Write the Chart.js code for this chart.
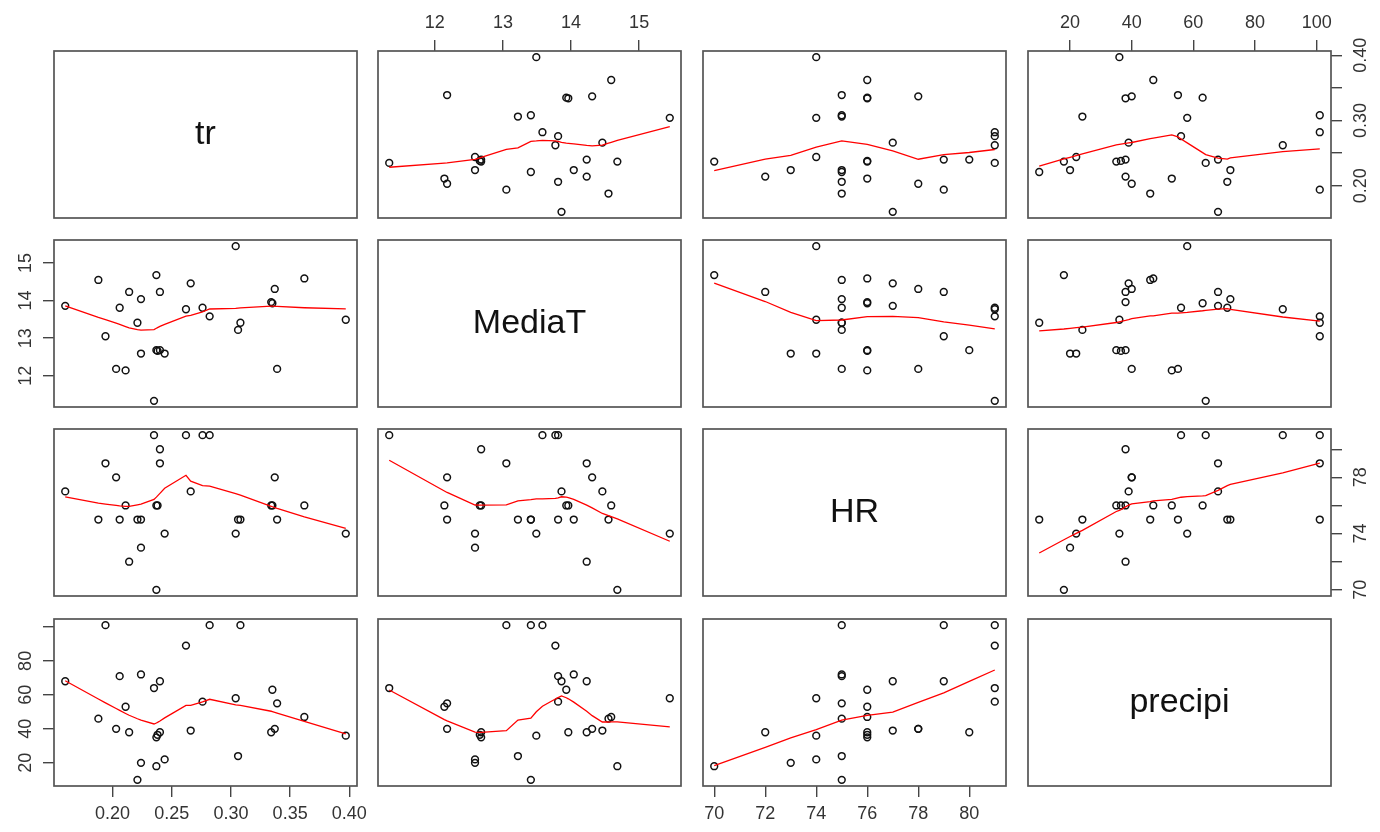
<!DOCTYPE html>
<html>
<head>
<meta charset="utf-8">
<title>pairs</title>
<script src="https://cdn.jsdelivr.net/npm/chart.js@4.4.1/dist/chart.umd.min.js"></script>
<style>
  html, body { margin: 0; padding: 0; background: #fff; }
  #wrap { position: relative; width: 1380px; height: 832px; overflow: hidden; }
  #wrap canvas { position: absolute; }
</style>
</head>
<body>
<div id="wrap"></div>
<script>
// Observations (one entry per station, same order in every array)
const tr = [0.160, 0.188, 0.194, 0.203, 0.206, 0.211, 0.214, 0.221, 0.224, 0.224,
            0.235, 0.237, 0.237, 0.238, 0.240, 0.240, 0.244, 0.262, 0.266, 0.276,
            0.282, 0.304, 0.306, 0.308, 0.334, 0.335, 0.337, 0.339, 0.362, 0.397];
const mediaT = [13.86, 14.55, 13.05, 12.18, 13.81, 12.14, 14.23, 13.41, 14.04, 12.59,
                11.33, 12.68, 14.68, 12.66, 12.68, 14.23, 12.59, 13.77, 14.46, 13.81,
                13.58, 15.45, 13.22, 13.41, 13.96, 13.93, 14.31, 12.18, 14.59, 13.49];
const hr = [77, 75, 79, 78, 75, 76, 72, 75, 75, 73,
            81, 76, 70, 76, 80, 79, 74, 81, 77, 81,
            81, 74, 75, 75, 76, 76, 78, 75, 76, 74];
const precipi = [68, 46, 101, 40, 71, 53, 38, 10, 72, 20,
                 64, 35, 18, 36.5, 38, 68, 22, 89, 39, 56,
                 101, 58, 24, 101, 38, 63, 40, 55, 47, 36];

// Axis ticks
const trTicks = [0.20, 0.25, 0.30, 0.35, 0.40];
const mediaTTicks = [12, 13, 14, 15];
const hrTicks = [70, 72, 74, 76, 78, 80];
const precipiTicks = [20, 40, 60, 80, 100];

// Labels printed on the vertical axes (R drops the ones that would overlap)
const trSideLabels = [0.20, 0.30, 0.40];
const mediaTSideLabels = [12, 13, 14, 15];
const hrSideLabels = [70, 74, 78];
const precipiSideLabels = [20, 40, 60, 80];

const varNames = ["tr", "MediaT", "HR", "precipi"];
const varData = [tr, mediaT, hr, precipi];
const varTicks = [trTicks, mediaTTicks, hrTicks, precipiTicks];
const varSideLabels = [trSideLabels, mediaTSideLabels, hrSideLabels, precipiSideLabels];
const varFormat = [
  (v) => v.toFixed(2),
  (v) => String(v),
  (v) => String(v),
  (v) => String(v),
];

// Panel geometry
const colLeft = [54, 378, 703, 1028];
const rowTop = [51, 240, 429, 619];
const panelW = 303;
const panelH = 167;
const M = 50;
const FONT = "'Liberation Sans', Arial, sans-serif";

// R-like axis limits: data range stretched by 4% each side
function limits(arr) {
  const lo = Math.min(...arr);
  const hi = Math.max(...arr);
  const r = hi - lo;
  return [lo - 0.04 * r, hi + 0.04 * r];
}

// Port of R's clowess (stats::lowess, f = 2/3, iter = 3)
function lowess(xIn, yIn, f = 2 / 3, nsteps = 3) {
  const idx = xIn.map((_, k) => k).sort((a, b) => xIn[a] - xIn[b] || a - b);
  const x = idx.map((k) => xIn[k]);
  const y = idx.map((k) => yIn[k]);
  const n = x.length;
  const delta = 0.01 * (x[n - 1] - x[0]);
  const ys = new Array(n).fill(0);
  const rw = new Array(n).fill(1);
  const res = new Array(n).fill(0);
  const w = new Array(n).fill(0);
  const ns = Math.max(2, Math.min(n, Math.floor(f * n + 1e-7)));

  function lowest(xs, nleft, nright, userw) {
    const range = x[n - 1] - x[0];
    const h = Math.max(xs - x[nleft], x[nright] - xs);
    const h9 = 0.999 * h;
    const h1 = 0.001 * h;
    let a = 0;
    let j = nleft;
    while (j < n) {
      w[j] = 0;
      const r = Math.abs(x[j] - xs);
      if (r <= h9) {
        w[j] = r <= h1 ? 1 : Math.pow(1 - Math.pow(r / h, 3), 3);
        if (userw) w[j] *= rw[j];
        a += w[j];
      } else if (x[j] > xs) {
        break;
      }
      j++;
    }
    const nrt = j - 1;
    if (a <= 0) return null;
    for (j = nleft; j <= nrt; j++) w[j] /= a;
    if (h > 0) {
      a = 0;
      for (j = nleft; j <= nrt; j++) a += w[j] * x[j];
      let b = xs - a;
      let c = 0;
      for (j = nleft; j <= nrt; j++) c += w[j] * (x[j] - a) * (x[j] - a);
      if (Math.sqrt(c) > 0.001 * range) {
        b /= c;
        for (j = nleft; j <= nrt; j++) w[j] *= b * (x[j] - a) + 1;
      }
    }
    let out = 0;
    for (j = nleft; j <= nrt; j++) out += w[j] * y[j];
    return out;
  }

  for (let iter = 1; iter <= nsteps + 1; iter++) {
    let nleft = 0;
    let nright = ns - 1;
    let last = -1;
    let i = 0;
    for (;;) {
      if (nright < n - 1) {
        const d1 = x[i] - x[nleft];
        const d2 = x[nright + 1] - x[i];
        if (d1 > d2) {
          nleft++;
          nright++;
          continue;
        }
      }
      const v = lowest(x[i], nleft, nright, iter > 1);
      ys[i] = v === null ? y[i] : v;
      if (last < i - 1) {
        const denom = x[i] - x[last];
        for (let j = last + 1; j < i; j++) {
          const alpha = (x[j] - x[last]) / denom;
          ys[j] = alpha * ys[i] + (1 - alpha) * ys[last];
        }
      }
      last = i;
      const cut = x[last] + delta;
      for (i = last + 1; i < n; i++) {
        if (x[i] > cut) break;
        if (x[i] === x[last]) {
          ys[i] = ys[last];
          last = i;
        }
      }
      i = Math.max(last + 1, i - 1);
      if (last >= n - 1) break;
    }
    for (let k = 0; k < n; k++) res[k] = y[k] - ys[k];
    let sc = 0;
    for (let k = 0; k < n; k++) sc += Math.abs(res[k]);
    sc /= n;
    if (iter > nsteps) break;
    const sorted = res.map(Math.abs).sort((a, b) => a - b);
    const m1 = Math.floor(n / 2);
    let cmad;
    if (n % 2 === 0) {
      const m2 = n - m1 - 1;
      cmad = 3 * (sorted[m1] + sorted[m2]);
    } else {
      cmad = 6 * sorted[m1];
    }
    if (cmad < 1e-7 * sc) break;
    const c9 = 0.999 * cmad;
    const c1 = 0.001 * cmad;
    for (let k = 0; k < n; k++) {
      const r = Math.abs(res[k]);
      if (r <= c1) rw[k] = 1;
      else if (r <= c9) rw[k] = Math.pow(1 - Math.pow(r / cmad, 2), 2);
      else rw[k] = 0;
    }
  }
  return x.map((xv, k) => ({ x: xv, y: ys[k] }));
}

// Box, diagonal names and rotated vertical-axis labels
const panelDecor = {
  id: "panelDecor",
  afterDraw(chart, args, opts) {
    const { ctx, chartArea: a } = chart;
    ctx.save();
    if (opts.name) {
      ctx.font = `34px ${FONT}`;
      ctx.fillStyle = "#111";
      ctx.textAlign = "center";
      ctx.textBaseline = "middle";
      ctx.fillText(opts.name, (a.left + a.right) / 2, (a.top + a.bottom) / 2);
    }
    if (opts.sideLabels) {
      const ys = chart.scales.y;
      const left = opts.side === "left";
      ctx.font = `18px ${FONT}`;
      ctx.fillStyle = "#333";
      ctx.textAlign = "center";
      ctx.textBaseline = left ? "bottom" : "top";
      const x = left ? a.left - 19 : a.right + 21;
      opts.sideLabels.forEach((v) => {
        ctx.save();
        ctx.translate(x, ys.getPixelForValue(v));
        ctx.rotate(-Math.PI / 2);
        ctx.fillText(opts.fmt(v), 0, 0);
        ctx.restore();
      });
    }
    ctx.strokeStyle = "#555";
    ctx.lineWidth = 1.7;
    ctx.strokeRect(a.left, a.top, a.right - a.left, a.bottom - a.top);
    ctx.restore();
  },
};

function makePanel(i, j) {
  const wrap = document.getElementById("wrap");
  const canvas = document.createElement("canvas");
  canvas.width = panelW + 2 * M;
  canvas.height = panelH + 2 * M;
  canvas.style.left = colLeft[j] - M + "px";
  canvas.style.top = rowTop[i] - M + "px";
  wrap.appendChild(canvas);

  const xLim = limits(varData[j]);
  const yLim = limits(varData[i]);
  const diag = i === j;

  // which outer axes carry ticks (R pairs layout)
  const xPos = j % 2 === 1 ? "top" : "bottom";
  const showX = (xPos === "top" && i === 0) || (xPos === "bottom" && i === 3);
  const yPos = i % 2 === 1 ? "left" : "right";
  const showY = (yPos === "left" && j === 0) || (yPos === "right" && j === 3);

  const datasets = [];
  if (!diag) {
    const pts = varData[j].map((v, k) => ({ x: v, y: varData[i][k] }));
    datasets.push({
      type: "line",
      data: lowess(varData[j], varData[i]),
      borderColor: "#ff0000",
      borderWidth: 1.3,
      pointRadius: 0,
      tension: 0,
      fill: false,
      order: 0,
    });
    datasets.push({
      type: "scatter",
      data: pts,
      pointStyle: "circle",
      pointRadius: 3.4,
      borderColor: "#111",
      borderWidth: 1.5,
      backgroundColor: "rgba(0,0,0,0)",
      order: 1,
    });
  }

  new Chart(canvas.getContext("2d"), {
    type: "scatter",
    data: { datasets },
    options: {
      responsive: false,
      animation: false,
      devicePixelRatio: 1,
      layout: {
        padding: {
          top: xPos === "bottom" ? M : 0,
          bottom: xPos === "top" ? M : 0,
          left: yPos === "right" ? M : 0,
          right: yPos === "left" ? M : 0,
        },
      },
      plugins: {
        legend: { display: false },
        tooltip: { enabled: false },
        panelDecor: {
          name: diag ? varNames[i] : null,
          sideLabels: showY ? varSideLabels[i] : null,
          side: yPos,
          fmt: varFormat[i],
        },
      },
      scales: {
        x: {
          type: "linear",
          position: xPos,
          min: xLim[0],
          max: xLim[1],
          afterFit: (s) => { s.height = M; },
          afterBuildTicks: (s) => { s.ticks = varTicks[j].map((v) => ({ value: v })); },
          border: { display: false },
          grid: {
            display: showX,
            drawOnChartArea: false,
            drawTicks: true,
            tickLength: 11,
            color: "#444",
            lineWidth: 1.4,
          },
          ticks: {
            display: showX,
            autoSkip: false,
            maxRotation: 0,
            minRotation: 0,
            padding: 6,
            color: "#333",
            font: { family: FONT, size: 18 },
            callback: (v) => varFormat[j](v),
          },
        },
        y: {
          type: "linear",
          position: yPos,
          min: yLim[0],
          max: yLim[1],
          afterFit: (s) => { s.width = M; },
          afterBuildTicks: (s) => { s.ticks = varTicks[i].map((v) => ({ value: v })); },
          border: { display: false },
          grid: {
            display: showY,
            drawOnChartArea: false,
            drawTicks: true,
            tickLength: 11,
            color: "#444",
            lineWidth: 1.4,
          },
          ticks: { display: false },
        },
      },
    },
    plugins: [panelDecor],
  });
}

for (let i = 0; i < 4; i++) {
  for (let j = 0; j < 4; j++) {
    makePanel(i, j);
  }
}
</script>
</body>
</html>
